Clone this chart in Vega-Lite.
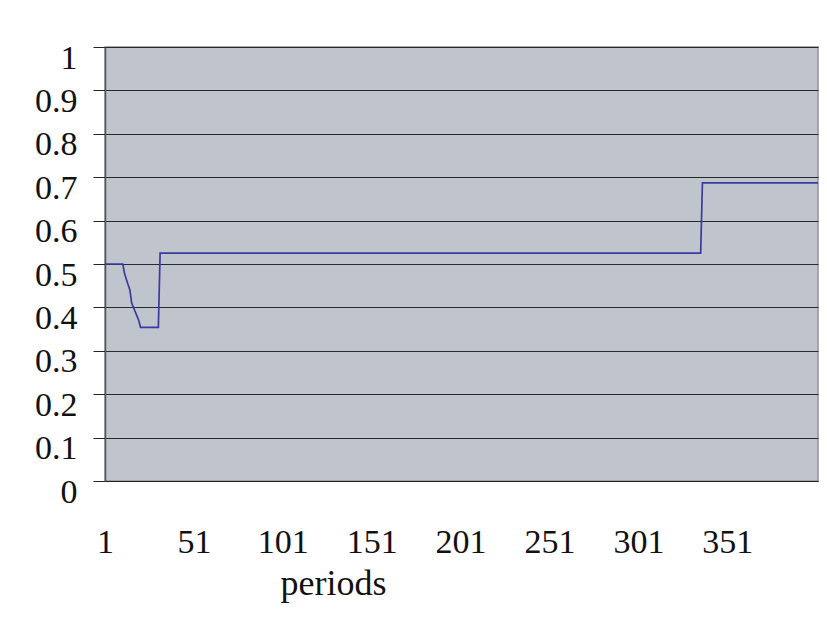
{
  "$schema": "https://vega.github.io/schema/vega-lite/v6.json",
  "width": 713,
  "height": 434,
  "autosize": "none",
  "padding": {"left": 105, "top": 47, "right": 9, "bottom": 156},
  "background": "white",
  "config": {
    "view": {"fill": "#c0c4cc", "stroke": "#8f939b", "strokeWidth": 1.5},
    "font": "Liberation Serif"
  },
  "data": {
    "values": [
      {"period": 1, "value": 0.5},
      {"period": 11, "value": 0.5},
      {"period": 12, "value": 0.478},
      {"period": 13, "value": 0.465},
      {"period": 14, "value": 0.452},
      {"period": 15, "value": 0.44},
      {"period": 16, "value": 0.41},
      {"period": 17, "value": 0.4},
      {"period": 18, "value": 0.39},
      {"period": 19, "value": 0.38},
      {"period": 20, "value": 0.37},
      {"period": 21, "value": 0.354},
      {"period": 31, "value": 0.354},
      {"period": 32, "value": 0.525},
      {"period": 336, "value": 0.525},
      {"period": 337, "value": 0.687},
      {"period": 402, "value": 0.687}
    ]
  },
  "mark": {"type": "line", "color": "#3a3aa0", "strokeWidth": 1.7},
  "encoding": {
    "x": {
      "field": "period",
      "type": "quantitative",
      "scale": {"domain": [1, 402], "nice": false, "zero": false},
      "axis": {
        "values": [1, 51, 101, 151, 201, 251, 301, 351],
        "title": "periods",
        "grid": false,
        "ticks": false,
        "tickSize": 0,
        "domainColor": "#222222",
        "domainWidth": 1.2,
        "labelFont": "Liberation Serif",
        "labelFontSize": 34,
        "labelColor": "#111111",
        "labelBaseline": "middle",
        "labelPadding": 61,
        "labelFlush": false,
        "labelOverlap": false,
        "titleFont": "Liberation Serif",
        "titleFontSize": 36,
        "titleFontWeight": "normal",
        "titleColor": "#111111",
        "titleX": 228,
        "titleY": 113,
        "titleAlign": "center",
        "titleBaseline": "alphabetic"
      }
    },
    "y": {
      "field": "value",
      "type": "quantitative",
      "scale": {"domain": [0, 1], "nice": false, "zero": true},
      "axis": {
        "values": [0, 0.1, 0.2, 0.3, 0.4, 0.5, 0.6, 0.7, 0.8, 0.9, 1],
        "format": ".1~f",
        "title": null,
        "grid": true,
        "gridColor": "#2a2a2a",
        "gridWidth": 1,
        "gridOpacity": 1,
        "tickSize": 12,
        "tickColor": "#222222",
        "tickWidth": 1,
        "domainColor": "#555555",
        "domainWidth": 1.5,
        "labelFont": "Liberation Serif",
        "labelFontSize": 34,
        "labelColor": "#111111",
        "labelBaseline": "middle",
        "labelOffset": 11,
        "labelPadding": 16,
        "labelFlush": false,
        "labelOverlap": false
      }
    }
  }
}
